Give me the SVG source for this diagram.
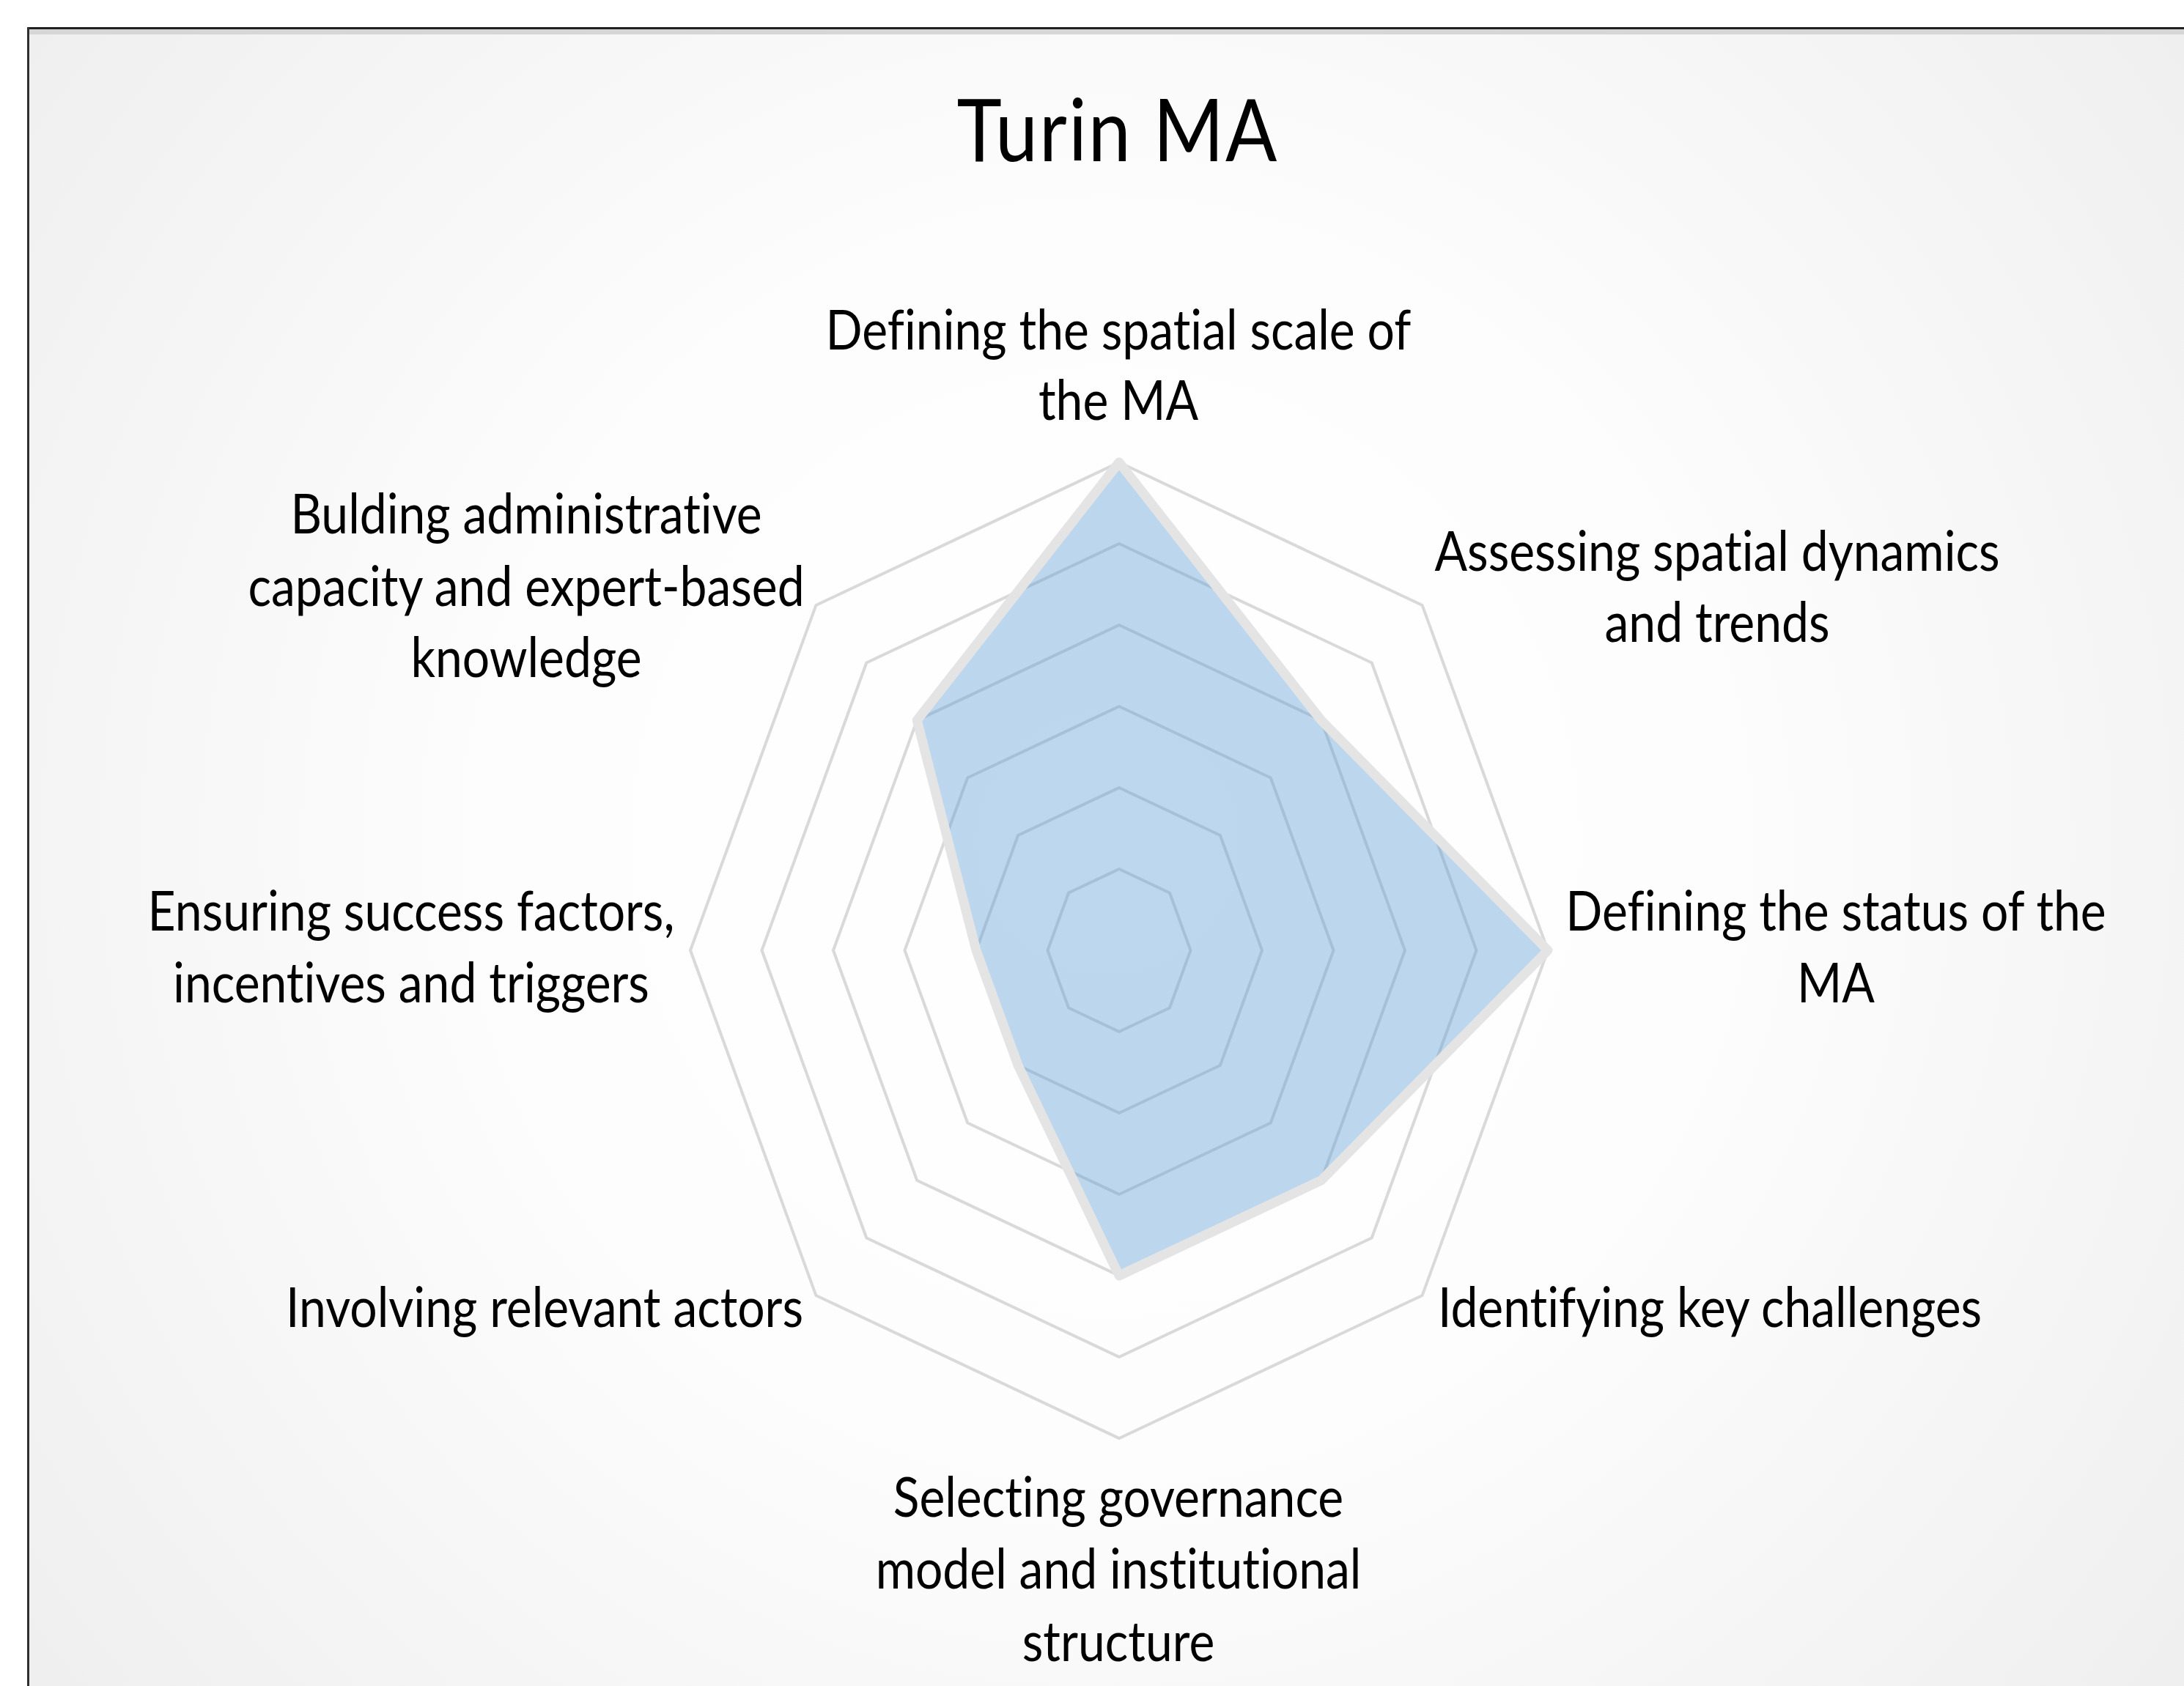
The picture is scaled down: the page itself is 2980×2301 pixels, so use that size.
<svg xmlns="http://www.w3.org/2000/svg" width="2980" height="2301" viewBox="0 0 2980 2301">
<style>
.ring{fill:none;stroke:#d9d9d9;stroke-width:4;stroke-linejoin:round}
.lbl{font-family:Lato,"Liberation Sans",sans-serif;font-size:66px;fill:#000;text-anchor:middle;font-variant-ligatures:none;font-feature-settings:"liga" 0,"clig" 0}
.title{font-family:Lato,"Liberation Sans",sans-serif;font-size:104px;fill:#000;text-anchor:middle;letter-spacing:2px;font-variant-ligatures:none}
</style>
<defs>
<radialGradient id="bg" gradientUnits="userSpaceOnUse" cx="1510" cy="1150" r="1850">
<stop offset="0" stop-color="#ffffff"/>
<stop offset="0.45" stop-color="#fdfdfd"/>
<stop offset="1" stop-color="#efefef"/>
</radialGradient>
</defs>
<rect x="0" y="0" width="2980" height="2301" fill="#ffffff"/>
<g id="frame">
<rect x="38" y="38" width="2960" height="2300" fill="url(#bg)"/>
<rect x="38" y="40" width="2942" height="7" fill="#d6d6d6"/>
<rect x="38" y="37" width="2942" height="3" fill="#202020"/>
<rect x="37" y="37" width="3" height="2264" fill="#303030"/>
</g>
<g id="title">
<text class="title" transform="matrix(1 0 0 1.138 1525 220)">Turin MA</text>
</g>
<g id="grid">
<polygon class="ring" points="1527,1186 1595.94,1218.51 1624.5,1297 1595.94,1375.49 1527,1408 1458.06,1375.49 1429.5,1297 1458.06,1218.51"/>
<polygon class="ring" points="1527,1075 1664.88,1140.02 1722,1297 1664.88,1453.98 1527,1519 1389.12,1453.98 1332,1297 1389.12,1140.02"/>
<polygon class="ring" points="1527,964 1733.82,1061.53 1819.5,1297 1733.82,1532.47 1527,1630 1320.18,1532.47 1234.5,1297 1320.18,1061.53"/>
<polygon class="ring" points="1527,853 1802.76,983.04 1917,1297 1802.76,1610.96 1527,1741 1251.24,1610.96 1137,1297 1251.24,983.04"/>
<polygon class="ring" points="1527,742 1871.7,904.55 2014.5,1297 1871.7,1689.45 1527,1852 1182.3,1689.45 1039.5,1297 1182.3,904.55"/>
<polygon class="ring" points="1527,631 1940.64,826.06 2112,1297 1940.64,1767.94 1527,1963 1113.36,1767.94 942,1297 1113.36,826.06"/>
</g>
<g id="series">
<polygon points="1527,631 1802.76,983.04 2112,1297 1802.76,1610.96 1527,1741 1389.12,1453.98 1332,1297 1251.24,983.04" fill="#5b9bd5" fill-opacity="0.4" stroke="none"/>
<polygon points="1527,631 1802.76,983.04 2112,1297 1802.76,1610.96 1527,1741 1389.12,1453.98 1332,1297 1251.24,983.04" fill="none" stroke="#e4e4e4" stroke-width="13" stroke-linejoin="round"/>
</g>
<g id="label-spatial-scale">
<text class="lbl" transform="matrix(1 0 0 1.138 1526 477)"><tspan x="0" y="0">Defining the spatial scale of</tspan><tspan x="0" y="84">the MA</tspan></text>
</g>
<g id="label-spatial-dynamics">
<text class="lbl" transform="matrix(1 0 0 1.138 2343 779)"><tspan x="0" y="0">Assessing spatial dynamics</tspan><tspan x="0" y="85">and trends</tspan></text>
</g>
<g id="label-status">
<text class="lbl" transform="matrix(1 0 0 1.138 2505 1270)"><tspan x="0" y="0">Defining the status of the</tspan><tspan x="0" y="86">MA</tspan></text>
</g>
<g id="label-challenges">
<text class="lbl" transform="matrix(1 0 0 1.138 2333 1811)">Identifying key challenges</text>
</g>
<g id="label-governance">
<text class="lbl" transform="matrix(1 0 0 1.138 1526 2070)"><tspan x="0" y="0">Selecting governance</tspan><tspan x="0" y="86">model and institutional</tspan><tspan x="0" y="173">structure</tspan></text>
</g>
<g id="label-actors">
<text class="lbl" transform="matrix(1 0 0 1.138 743 1811)">Involving relevant actors</text>
</g>
<g id="label-success">
<text class="lbl" transform="matrix(1 0 0 1.138 561 1270)"><tspan x="0" y="0">Ensuring success factors,</tspan><tspan x="0" y="86">incentives and triggers</tspan></text>
</g>
<g id="label-capacity">
<text class="lbl" transform="matrix(1 0 0 1.138 718 728)"><tspan x="0" y="0">Bulding administrative</tspan><tspan x="0" y="87">capacity and expert-based</tspan><tspan x="0" y="172">knowledge</tspan></text>
</g>
</svg>
